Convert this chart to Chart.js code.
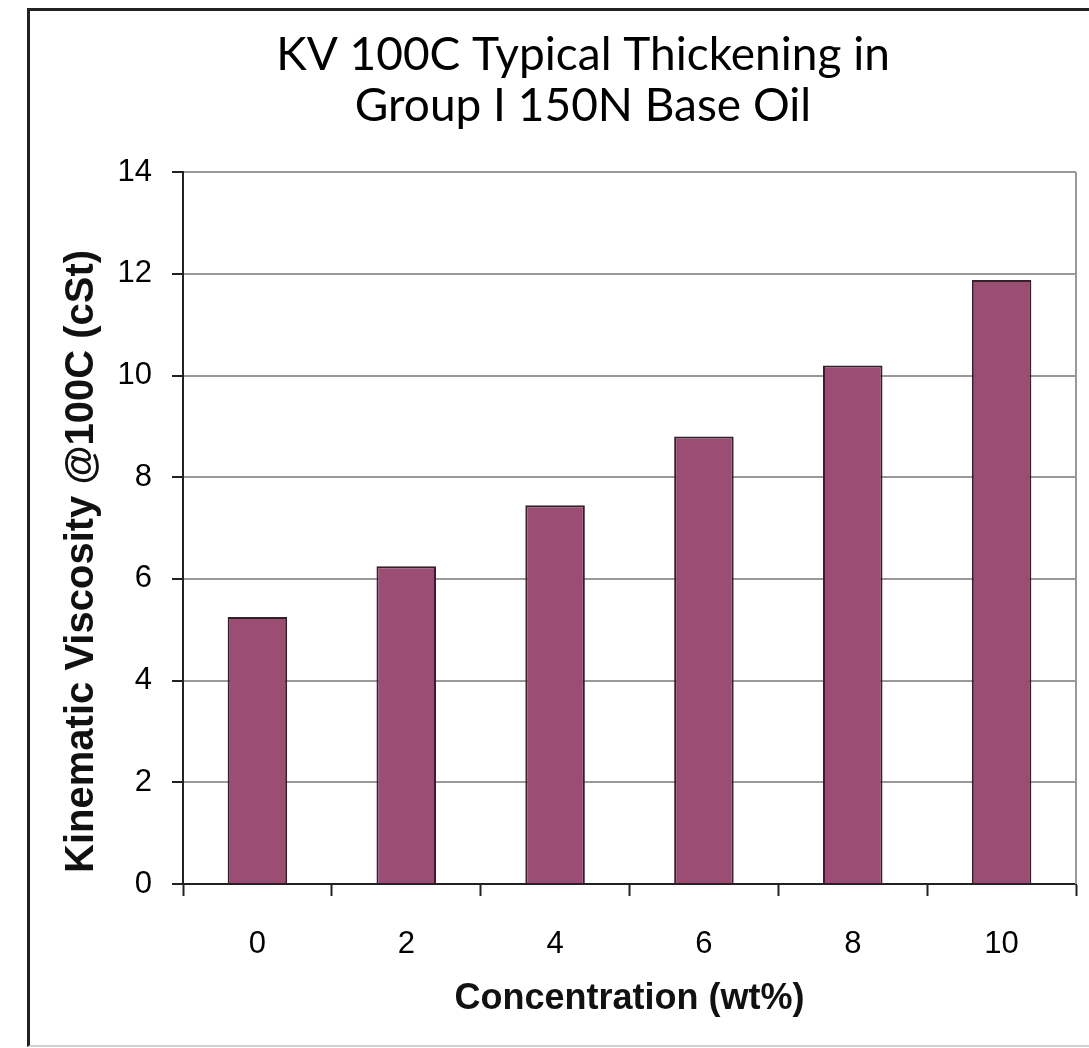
<!DOCTYPE html>
<html>
<head>
<meta charset="utf-8">
<title>KV 100C Typical Thickening</title>
<script src="https://cdn.jsdelivr.net/npm/chart.js@4.4.1/dist/chart.umd.min.js"></script>
<style>
  html, body { margin: 0; padding: 0; background: #fff; overflow: hidden; }
  /* outer frame, wider than the window so its right side runs off the page */
  #frame {
    position: absolute; left: 27px; top: 8px;
    width: 1106px; height: 1034px;
    border-left: 3px solid #222; border-top: 3px solid #222;
    border-bottom: 2px solid #cfcfcf;
  }
</style>
</head>
<body>
<div id="frame"><canvas id="kvChart"></canvas></div>
<script>
// --- data ---
const concentrations = ['0', '2', '4', '6', '8', '10'];
const viscosity = [5.25, 6.25, 7.45, 8.8, 10.2, 11.88];
const titleLines = ['KV 100C Typical Thickening in', 'Group I 150N Base Oil'];
const yTitle = ' Kinematic Viscosity @100C (cSt)';
const xTitle = 'Concentration (wt%)';

const tickFont = { family: '"Liberation Sans", Arial, sans-serif', size: 31 };
const axisTitleFont = { family: '"Liberation Sans", Arial, sans-serif', size: 36, weight: 'bold', lineHeight: 1.2 };

// gray outline on the right edge of the plot area
const plotEdge = {
  id: 'plotEdge',
  beforeDatasetsDraw(chart) {
    const { ctx, chartArea: a } = chart;
    ctx.save();
    ctx.strokeStyle = '#999';
    ctx.lineWidth = 2;
    ctx.beginPath();
    ctx.moveTo(a.right, a.top);
    ctx.lineTo(a.right, a.bottom);
    ctx.stroke();
    ctx.restore();
  }
};

new Chart(document.getElementById('kvChart'), {
  type: 'bar',
  data: {
    labels: concentrations,
    datasets: [{
      data: viscosity,
      backgroundColor: '#9b4d73',
      borderColor: '#3a1c2a',
      borderWidth: 2,
      categoryPercentage: 1,
      barPercentage: 0.4
    }]
  },
  options: {
    responsive: true,
    maintainAspectRatio: false,
    animation: false,
    plugins: {
      legend: { display: false },
      tooltip: { enabled: false },
      title: {
        display: true,
        text: titleLines,
        color: '#000',
        font: { family: 'Lato, "Open Sans", sans-serif', size: 46, weight: 'normal', lineHeight: 1.1 },
        padding: { top: 19, bottom: 41 }
      }
    },
    scales: {
      x: {
        offset: true,
        grid: { offset: true, drawOnChartArea: false, tickLength: 12, tickColor: '#222', tickWidth: 2 },
        border: { color: '#222', width: 2 },
        ticks: { color: '#000', font: tickFont, padding: 30 },
        title: { display: true, text: xTitle, color: '#111', font: axisTitleFont, padding: { bottom: 24 } },
        afterFit(scale) { scale.height = 161; }
      },
      y: {
        min: 0,
        max: 14,
        grid: { color: '#999', lineWidth: 2, tickLength: 11, tickColor: '#222', tickWidth: 2 },
        border: { color: '#222', width: 2 },
        ticks: { stepSize: 2, color: '#000', font: tickFont, padding: 20 },
        title: {
          display: true, text: yTitle, color: '#111', align: 'start',
          font: { ...axisTitleFont, size: 40 }, padding: { top: 28 }
        },
        afterFit(scale) { scale.width = 153; }
      },
      // empty right-hand axis, only reserves the blank strip right of the plot
      yRight: {
        position: 'right',
        grid: { display: false },
        border: { display: false },
        ticks: { display: false },
        afterFit(scale) { scale.width = 60; }
      }
    }
  },
  plugins: [plotEdge]
});
</script>
</body>
</html>
